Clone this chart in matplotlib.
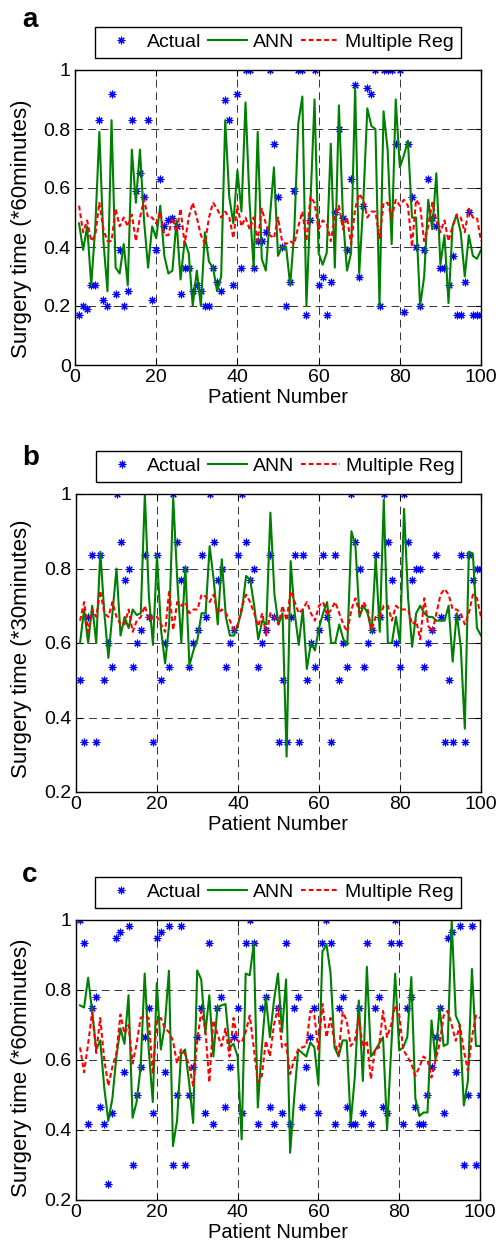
import numpy as np
import matplotlib
matplotlib.use("Agg")
import matplotlib.pyplot as plt
from matplotlib.ticker import FixedLocator, FixedFormatter

plt.rcParams['font.family'] = ['Liberation Sans', 'DejaVu Sans']

patients = np.arange(1, 101)

# ---------------- Panel a ----------------
a_actual = [0.17, 0.20, 0.19, 0.27, 0.27, 0.83, 0.22, 0.20, 0.92, 0.24,
            0.39, 0.20, 0.25, 0.83, 0.59, 0.65, 0.57, 0.83, 0.22, 0.39,
            0.63, 0.47, 0.49, 0.50, 0.47, 0.24, 0.33, 0.33, 0.25, 0.27,
            0.25, 0.20, 0.20, 0.33, 0.28, 0.25, 0.90, 0.83, 0.27, 0.92,
            0.33, 1.00, 1.00, 0.33, 0.42, 0.42, 0.45, 1.00, 0.75, 0.57,
            0.40, 0.20, 0.28, 0.59, 1.00, 1.00, 0.17, 0.49, 1.00, 0.27,
            0.30, 0.17, 0.28, 0.52, 0.80, 0.50, 0.39, 0.63, 0.95, 0.30,
            0.54, 0.94, 0.92, 1.00, 0.20, 1.00, 1.00, 1.00, 0.75, 1.00,
            0.18, 0.75, 0.57, 0.40, 0.20, 0.39, 0.63, 0.50, 0.47, 0.33,
            0.33, 0.27, 0.37, 0.17, 0.17, 0.28, 0.52, 0.17, 0.17, 0.17]
a_ann = [0.48, 0.39, 0.47, 0.27, 0.47, 0.79, 0.42, 0.25, 0.83, 0.33,
         0.31, 0.41, 0.27, 0.73, 0.55, 0.73, 0.49, 0.33, 0.47, 0.43,
         0.54, 0.37, 0.31, 0.32, 0.49, 0.29, 0.42, 0.38, 0.20, 0.32,
         0.20, 0.45, 0.35, 0.33, 0.25, 0.30, 0.83, 0.57, 0.48, 0.66,
         0.52, 0.89, 0.55, 0.33, 0.79, 0.36, 0.32, 0.50, 0.67, 0.37,
         0.40, 0.40, 0.27, 0.45, 0.82, 0.91, 0.20, 0.55, 0.90, 0.38,
         0.34, 0.38, 0.75, 0.33, 0.88, 0.50, 0.32, 0.38, 0.94, 0.31,
         0.55, 0.87, 0.81, 0.80, 0.20, 0.86, 0.73, 0.41, 0.90, 0.67,
         0.71, 0.76, 0.50, 0.50, 0.20, 0.30, 0.56, 0.46, 0.65, 0.34,
         0.44, 0.21, 0.47, 0.51, 0.45, 0.30, 0.44, 0.37, 0.36, 0.39]
a_mreg = [0.54, 0.45, 0.49, 0.42, 0.44, 0.55, 0.46, 0.42, 0.42, 0.53,
          0.47, 0.50, 0.47, 0.51, 0.42, 0.50, 0.56, 0.50, 0.50, 0.48,
          0.52, 0.44, 0.44, 0.50, 0.45, 0.53, 0.41, 0.50, 0.55, 0.50,
          0.44, 0.41, 0.50, 0.55, 0.53, 0.50, 0.52, 0.50, 0.43, 0.54,
          0.47, 0.50, 0.46, 0.50, 0.42, 0.53, 0.48, 0.44, 0.43, 0.50,
          0.42, 0.41, 0.42, 0.41, 0.47, 0.52, 0.42, 0.57, 0.55, 0.46,
          0.49, 0.48, 0.42, 0.50, 0.54, 0.46, 0.50, 0.41, 0.53, 0.58,
          0.56, 0.50, 0.52, 0.52, 0.43, 0.55, 0.55, 0.50, 0.56, 0.54,
          0.56, 0.54, 0.40, 0.56, 0.54, 0.42, 0.47, 0.55, 0.49, 0.45,
          0.49, 0.42, 0.47, 0.51, 0.50, 0.45, 0.53, 0.50, 0.50, 0.42]

# ---------------- Panel b ----------------
b_actual = [0.50, 0.335, 0.67, 0.835, 0.335, 0.835, 0.50, 0.60, 0.535, 1.00,
            0.87, 0.77, 0.80, 0.535, 0.60, 0.635, 0.835, 0.67, 0.335, 0.835,
            0.50, 0.60, 0.535, 1.00, 0.87, 0.77, 0.80, 0.535, 0.60, 0.635,
            0.835, 0.67, 1.00, 0.87, 0.77, 0.80, 0.535, 0.60, 0.635, 0.835,
            1.00, 0.87, 0.77, 0.80, 0.535, 0.60, 0.635, 0.835, 0.67, 0.335,
            0.50, 0.335, 0.67, 0.835, 0.335, 0.835, 0.50, 0.60, 0.535, 0.635,
            0.835, 0.67, 0.335, 0.835, 0.50, 0.60, 0.535, 1.00, 0.87, 0.80,
            0.535, 0.60, 0.635, 0.835, 0.67, 1.00, 0.87, 0.77, 0.60, 0.535,
            1.00, 0.87, 0.77, 0.80, 0.80, 0.535, 0.60, 0.635, 0.835, 0.67,
            0.335, 0.50, 0.335, 0.67, 0.835, 0.335, 0.835, 0.77, 0.80, 0.80]
b_ann = [0.60, 0.69, 0.60, 0.70, 0.60, 0.845, 0.68, 0.56, 0.68, 0.80,
         0.62, 0.67, 0.64, 0.69, 0.675, 0.68, 1.00, 0.725, 0.595, 0.835,
         0.635, 0.545, 0.65, 0.99, 0.77, 0.60, 0.805, 0.54, 0.58, 0.61,
         0.68, 0.68, 0.86, 0.77, 0.65, 0.825, 0.67, 0.62, 0.62, 0.65,
         0.69, 0.78, 0.77, 0.70, 0.61, 0.66, 0.65, 0.95, 0.73, 0.65,
         0.68, 0.295, 0.82, 0.68, 0.595, 0.69, 0.53, 0.60, 0.58, 0.64,
         0.68, 0.71, 0.60, 0.60, 0.65, 0.61, 0.595, 0.90, 0.86, 0.67,
         0.70, 0.68, 0.63, 0.83, 0.63, 0.985, 0.60, 0.60, 0.67, 0.60,
         0.96, 0.72, 0.59, 0.68, 0.70, 0.68, 0.67, 0.67, 0.66, 0.66,
         0.66, 0.70, 0.55, 0.68, 0.59, 0.37, 0.845, 0.84, 0.64, 0.62]
b_mreg = [0.66, 0.71, 0.63, 0.69, 0.67, 0.74, 0.68, 0.67, 0.71, 0.67,
          0.65, 0.65, 0.69, 0.63, 0.66, 0.67, 0.70, 0.66, 0.67, 0.67,
          0.65, 0.63, 0.74, 0.635, 0.71, 0.70, 0.71, 0.68, 0.69, 0.69,
          0.73, 0.725, 0.71, 0.73, 0.68, 0.69, 0.68, 0.66, 0.635, 0.65,
          0.70, 0.73, 0.71, 0.68, 0.645, 0.68, 0.62, 0.68, 0.67, 0.65,
          0.70, 0.66, 0.74, 0.71, 0.68, 0.69, 0.71, 0.68, 0.66, 0.70,
          0.71, 0.675, 0.69, 0.71, 0.68, 0.65, 0.63, 0.69, 0.72, 0.68,
          0.71, 0.69, 0.635, 0.67, 0.67, 0.70, 0.70, 0.66, 0.70, 0.69,
          0.69, 0.69, 0.65, 0.66, 0.61, 0.72, 0.645, 0.63, 0.68, 0.73,
          0.745, 0.73, 0.69, 0.69, 0.68, 0.65, 0.68, 0.73, 0.72, 0.67]

# ---------------- Panel c ----------------
c_actual = [1.00, 0.933, 0.416, 0.75, 0.78, 0.465, 0.416, 0.245, 0.45, 0.95,
            0.967, 0.565, 0.983, 0.30, 0.50, 0.58, 0.665, 0.75, 0.45, 0.95,
            0.967, 0.565, 0.983, 0.30, 0.50, 0.983, 0.30, 0.50, 0.58, 0.665,
            0.75, 0.45, 0.933, 0.416, 0.75, 0.78, 0.465, 0.58, 0.665, 0.75,
            0.45, 0.933, 1.00, 0.933, 0.416, 0.75, 0.78, 0.465, 0.416, 0.75,
            0.45, 0.933, 0.416, 0.75, 0.78, 0.465, 0.58, 0.665, 0.75, 0.45,
            0.933, 1.00, 0.933, 0.416, 0.75, 0.78, 0.465, 0.416, 0.416, 0.75,
            0.45, 0.933, 0.416, 0.75, 0.78, 0.465, 0.45, 0.933, 1.00, 0.933,
            0.416, 0.75, 0.78, 0.465, 0.416, 0.416, 0.50, 0.58, 0.665, 0.75,
            0.45, 0.95, 0.967, 0.565, 0.983, 0.30, 0.50, 0.983, 0.30, 0.50]
c_ann = [0.756, 0.75, 0.835, 0.74, 0.63, 0.656, 0.52, 0.426, 0.49, 0.61,
         0.69, 0.646, 0.785, 0.435, 0.48, 0.58, 0.847, 0.63, 0.48, 0.82,
         0.63, 0.70, 0.855, 0.354, 0.426, 0.617, 0.63, 0.536, 0.42, 0.856,
         0.83, 0.675, 0.785, 0.61, 0.75, 0.756, 0.76, 0.636, 0.646, 0.61,
         0.373, 0.847, 0.842, 0.933, 0.464, 0.636, 0.78, 0.665, 0.77, 0.847,
         0.68, 0.83, 0.335, 0.49, 0.63, 0.62, 0.61, 0.65, 0.636, 0.53,
         0.91, 0.93, 0.85, 0.636, 0.61, 0.656, 0.656, 0.42, 0.55, 0.77,
         0.54, 0.866, 0.61, 0.627, 0.646, 0.665, 0.40, 0.627, 0.847, 0.627,
         0.636, 0.665, 0.837, 0.49, 0.44, 0.45, 0.45, 0.713, 0.60, 0.75,
         0.64, 0.646, 0.995, 0.727, 0.70, 0.47, 0.54, 0.86, 0.64, 0.64]
c_mreg = [0.636, 0.565, 0.646, 0.737, 0.62, 0.72, 0.60, 0.526, 0.58, 0.62,
          0.73, 0.675, 0.70, 0.59, 0.646, 0.72, 0.727, 0.72, 0.56, 0.713,
          0.72, 0.69, 0.68, 0.655, 0.59, 0.63, 0.617, 0.585, 0.526, 0.655,
          0.74, 0.69, 0.536, 0.713, 0.675, 0.64, 0.69, 0.61, 0.72, 0.655,
          0.65, 0.68, 0.727, 0.636, 0.536, 0.555, 0.655, 0.61, 0.70, 0.75,
          0.636, 0.646, 0.56, 0.60, 0.63, 0.636, 0.64, 0.74, 0.727, 0.63,
          0.76, 0.665, 0.72, 0.65, 0.617, 0.737, 0.713, 0.64, 0.655, 0.72,
          0.636, 0.655, 0.545, 0.63, 0.636, 0.74, 0.665, 0.70, 0.756, 0.73,
          0.63, 0.61, 0.59, 0.555, 0.58, 0.61, 0.60, 0.55, 0.60, 0.646,
          0.727, 0.74, 0.70, 0.655, 0.70, 0.627, 0.57, 0.665, 0.727, 0.72]

x_ticks = [0, 20, 40, 60, 80, 100]
x_ticklabels = ['0', '20', '40', '60', '80', '100']
ya_ticks = [0, 0.2, 0.4, 0.6, 0.8, 1.0]
ya_ticklabels = ['0', '0.2', '0.4', '0.6', '0.8', '1']
ybc_ticks = [0.2, 0.4, 0.6, 0.8, 1.0]
ybc_ticklabels = ['0.2', '0.4', '0.6', '0.8', '1']

panel_letters = ['a', 'b', 'c']
y_labels = ['Surgery time (*60minutes)', 'Surgery time (*30minutes)',
            'Surgery time (*60minutes)']
series_names = ['Actual', 'ANN', 'Multiple Reg']

W, H = 500, 1251
fig = plt.figure(figsize=(W / 100, H / 100), dpi=100)

# axes boxes in pixels: left, right, top, bottom
boxes = [(75, 481, 70, 365), (76, 481, 494, 792), (76, 480, 920, 1200)]
letter_base = [27, 465, 882]
ylabel_center_y = [228.5, 648.5, 1068]
panels = [
    (a_actual, a_ann, a_mreg, ya_ticks, ya_ticklabels, (0, 1)),
    (b_actual, b_ann, b_mreg, ybc_ticks, ybc_ticklabels, (0.2, 1)),
    (c_actual, c_ann, c_mreg, ybc_ticks, ybc_ticklabels, (0.2, 1)),
]

FS = 14
for i, (act, ann, mreg, yt, ytl, ylim) in enumerate(panels):
    l, r, t, b = boxes[i]
    ax = fig.add_axes([l / W, 1 - b / H, (r - l) / W, (b - t) / H])
    ax.plot(patients, act, linestyle='none', marker=(8, 2, 0), markersize=5.5,
            markeredgewidth=0.8, color='#0000FF', label=series_names[0])
    ax.plot(patients, ann, '-', color='#008000', linewidth=1.5,
            label=series_names[1])
    ax.plot(patients, mreg, '--', color='#FF0000', linewidth=1.5,
            dashes=(2.3, 1.4), label=series_names[2])
    ax.set_xlim(0, 100)
    ax.set_ylim(*ylim)
    ax.xaxis.set_major_locator(FixedLocator(x_ticks))
    ax.xaxis.set_major_formatter(FixedFormatter(x_ticklabels))
    ax.yaxis.set_major_locator(FixedLocator(yt))
    ax.yaxis.set_major_formatter(FixedFormatter(ytl))
    ax.grid(True, color='black', linestyle=(0, (8, 5)), linewidth=0.7,
            alpha=0.8)
    ax.tick_params(direction='in', length=4, width=0.8, top=True, right=True,
                   labelsize=FS, pad=3)
    for s in ax.spines.values():
        s.set_linewidth(1.0)
    ax.set_xlabel('Patient Number', fontsize=14.5, labelpad=1)
    ax.set_ylabel(y_labels[i], fontsize=16)
    ax.yaxis.set_label_coords((22 - l) / (r - l), (b - ylabel_center_y[i]) / (b - t))
    ax.yaxis.label.set_va('center')
    gap = 12 / (b - t)
    leg = ax.legend(loc='lower center', bbox_to_anchor=(0.5, 1 + gap),
                    ncol=3, fontsize=FS, frameon=True, fancybox=False,
                    edgecolor='black', framealpha=1, borderaxespad=0,
                    handlelength=2.0, handletextpad=0.3, columnspacing=0.35,
                    borderpad=0.35)
    leg.get_frame().set_linewidth(1.0)
    fig.text(22 / W, 1 - letter_base[i] / H, panel_letters[i],
             fontsize=20, fontweight='bold', ha='left', va='baseline')

fig.savefig('out.png', dpi=100)
